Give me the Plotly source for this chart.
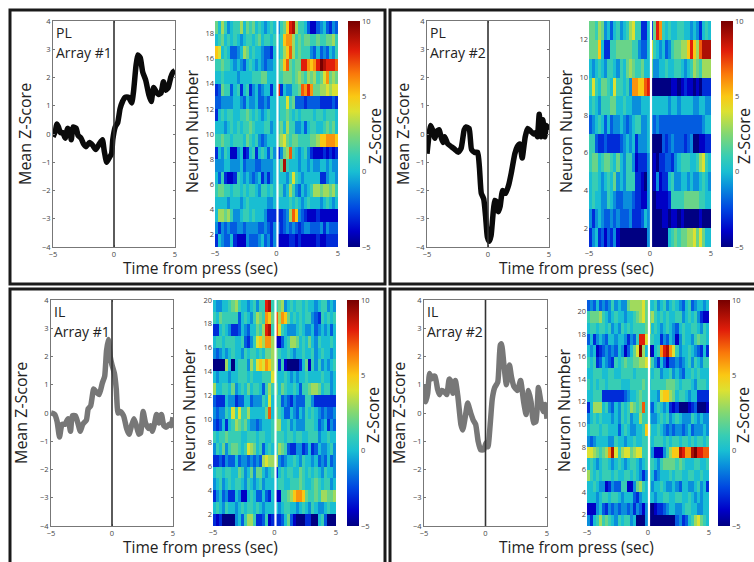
import numpy as np
import plotly.graph_objects as go

W, H = 754, 562

# ---------- mean z-score traces ----------
a_x = [-5,-4.8,-4.7,-4.55,-4.4,-4.2,-4,-3.8,-3.6,-3.5,-3.35,-3.1,-2.95,-2.7,-2.5,-2.3,-2,-1.75,-1.5,-1.2,-0.95,-0.8,-0.6,-0.4,-0.2,-0.1,0.1,0.3,0.5,0.7,0.9,1.2,1.45,1.6,1.8,1.95,2.15,2.35,2.6,2.85,3.05,3.25,3.45,3.65,3.85,4.05,4.25,4.45,4.65,4.85,5]
a_y = [-0.1,0.1,0.35,0.25,0.05,0.05,-0.15,0.2,0.05,-0.2,0.25,0.2,-0.05,-0.15,-0.35,-0.45,-0.3,-0.4,-0.55,-0.35,-0.2,-0.6,-1.0,-0.85,-0.7,-0.2,0.25,0.4,0.9,1.15,1.3,1.3,1.1,1.5,2.4,2.8,2.7,2.2,1.9,1.4,1.15,1.65,1.5,1.4,1.45,1.85,1.55,1.65,2.0,2.2,2.25]
b_x = [-5,-4.85,-4.7,-4.55,-4.35,-4.2,-4,-3.85,-3.7,-3.55,-3.3,-3,-2.7,-2.45,-2.2,-1.95,-1.8,-1.55,-1.35,-1.1,-0.85,-0.7,-0.55,-0.35,-0.2,-0.05,0.1,0.25,0.4,0.55,0.7,0.85,1,1.2,1.45,1.7,1.9,2.2,2.4,2.6,2.8,3.05,3.25,3.5,3.75,3.95,4.05,4.2,4.35,4.5,4.65,4.8,5]
b_y = [-0.7,-0.1,0.3,0.15,-0.15,0.1,0.15,-0.1,-0.3,-0.1,-0.35,-0.45,-0.55,-0.65,-0.5,0.15,0.25,0.2,-0.55,-0.65,-0.65,-1.2,-2.1,-2.3,-2.9,-3.65,-3.8,-3.6,-2.9,-2.35,-2.4,-2.75,-2.55,-2.0,-2.1,-1.8,-1.4,-0.7,-0.45,-0.35,-0.85,-0.1,0.2,0.1,0,0.05,-0.1,0.7,-0.1,0.5,-0.1,0.3,0.15]
c_x = [-5,-4.7,-4.5,-4.3,-4.1,-3.85,-3.6,-3.4,-3.25,-3,-2.8,-2.6,-2.4,-2.1,-1.95,-1.75,-1.5,-1.3,-1.05,-0.8,-0.6,-0.45,-0.3,-0.15,0,0.2,0.35,0.5,0.7,0.95,1.2,1.4,1.6,1.8,2.0,2.2,2.35,2.55,2.75,3,3.15,3.3,3.5,3.65,3.85,4.05,4.25,4.45,4.7,4.85,5]
c_y = [0,-0.05,-0.3,-0.85,-0.4,-0.4,-0.2,-0.65,-0.1,-0.1,-0.35,-0.65,-0.4,-0.25,0.15,0.25,0.85,0.75,0.65,1.05,1.3,2.2,2.6,2.0,1.7,1.4,0.85,0,0.05,-0.1,-0.55,-0.75,-0.45,-0.2,-0.45,-0.75,-0.7,0.05,-0.35,-0.55,-0.45,-0.65,-0.35,-0.05,-0.35,-0.05,-0.45,-0.5,-0.4,-0.45,-0.15]
d_x = [-5,-4.85,-4.7,-4.55,-4.4,-4.25,-4.1,-3.9,-3.75,-3.55,-3.35,-3.15,-2.95,-2.8,-2.65,-2.45,-2.25,-2,-1.85,-1.65,-1.45,-1.2,-1,-0.8,-0.6,-0.4,-0.15,0.05,0.2,0.4,0.55,0.75,1,1.2,1.3,1.5,1.7,1.95,2.1,2.3,2.6,2.85,3.1,3.3,3.5,3.7,3.9,4.1,4.3,4.5,4.7,4.85,5]
d_y = [1,0.4,0.7,1.4,1.2,1.3,1.3,0.85,0.65,0.8,0.75,0.65,1.2,1.1,0.7,1.15,0.6,-0.4,-0.6,-0.15,0.35,0,-0.25,-0.4,-1.0,-1.3,-1.3,-1.05,-1.2,-0.3,0.5,0.9,1.1,2.4,2.45,1.7,1.0,1.7,1.3,0.95,0.8,1.15,0.4,-0.05,0.8,0.4,-0.35,-0.3,0.9,0.4,0.05,0.3,-0.2]

# ---------- per-neuron z-scores, rows listed top to bottom, 40 time bins ----------
a_z = [
[2,0,3,1,-1,0,1,1,3,0,2,1,2,0,1,0,-1,0,1,0,-1,1,2,5,8,9,3,1,1,0,-2,-4,-4,-2,-1,0,-2,-3,-1,-2],
[0,1,2,0,1,0,1,0,-1,0,1,1,0,1,2,0,1,1,0,1,0,1,5,6,6,3,1,2,1,2,2,1,1,2,1,1,2,2,3,1],
[5,4,0,1,0,-2,-2,-1,0,3,2,0,1,0,0,-1,-2,-2,-3,0,0,1,3,5,7,3,1,2,1,1,1,-1,-2,0,-2,-1,-2,0,-1,1],
[1,1,2,1,1,0,-1,0,-1,-2,0,1,0,-1,0,-1,-2,-1,-1,0,1,2,5,7,2,1,2,2,8,8,6,5,6,8,10,9,8,8,8,7],
[0,0,1,0,0,0,0,-1,0,0,0,0,1,1,1,2,2,0,0,0,1,1,2,2,2,1,2,3,2,1,3,2,3,1,2,4,6,2,3,2],
[-3,-2,2,1,1,-2,0,1,-3,0,1,-3,-1,0,-2,-1,0,0,-3,0,8,-3,0,-1,-1,1,1,2,7,6,8,6,2,2,3,3,4,3,4,4],
[-2,-2,-1,-1,-1,-1,0,0,-1,-2,0,-1,-1,0,-2,-2,-1,-2,0,0,0,1,1,4,1,2,-2,-2,-2,-3,-2,-2,-2,-2,-3,-3,-3,-3,-2,-3],
[-3,0,1,0,1,1,0,0,1,1,2,1,0,1,0,-1,0,1,0,0,0,1,1,2,1,0,1,0,1,1,1,1,0,1,1,0,1,1,1,0],
[0,0,0,-1,0,1,0,1,0,1,1,2,1,0,0,0,1,1,-1,0,1,2,0,3,1,1,-1,-1,0,-2,0,1,1,0,0,1,2,1,2,0],
[1,1,2,1,1,0,1,1,1,0,2,1,0,1,-1,-2,-1,0,0,0,2,3,4,2,1,2,2,1,1,1,1,2,2,3,5,5,6,6,6,5],
[-3,0,-1,1,0,-4,-4,-1,0,-4,-3,0,1,-3,0,1,0,-2,1,-1,-3,-1,2,3,7,1,0,-1,0,1,-1,-3,-4,-4,-4,-3,-4,-3,-4,-3],
[-1,-1,-1,0,0,-1,-1,-1,0,-2,-1,-1,-1,-2,-2,-1,-1,-1,-1,0,0,2,9,1,0,0,0,-1,0,0,-1,0,-1,-1,0,0,-1,0,-1,-1],
[0,-2,1,-3,-4,-4,-3,1,0,-1,0,-1,-2,-1,0,-3,-1,-3,-1,0,0,0,0,-1,1,4,1,0,-1,0,0,0,0,0,-3,-3,-1,0,0,-1],
[1,2,2,1,1,0,1,1,0,1,0,1,1,0,-1,1,1,0,1,0,1,1,-1,0,3,1,-1,-2,0,-1,0,1,3,3,2,3,3,2,3,1],
[0,0,0,0,-1,0,0,0,-1,0,1,0,0,0,0,0,0,-1,-1,0,0,0,0,0,1,0,1,0,-1,0,1,0,0,0,-1,0,1,0,-1,0],
[0,3,3,2,3,1,-1,-1,0,1,1,0,1,0,0,0,-1,-3,-3,-3,-3,-3,-2,-1,3,7,5,-1,-2,-3,-4,-4,-4,-3,-4,-4,-4,-4,-4,-4],
[-1,-3,-1,-2,-1,-2,-2,-1,-1,-2,-1,-1,-1,-1,-2,-2,-1,-2,-3,-1,-2,-3,-2,-1,-2,-1,-2,-3,-2,-1,-1,-2,-2,-2,-1,-3,-1,-2,-2,-2],
[-3,0,-1,-2,-2,0,-3,-4,-4,-4,-1,-2,-2,-2,-1,0,-2,-1,-3,-1,-4,-4,-4,-4,-3,-3,-4,-3,-4,-4,-4,-4,-4,-3,-4,-4,-3,-3,-3,-3],
]
b_z = [
[2,2,1,3,2,-1,0,-2,0,1,-1,0,1,3,4,1,1,-3,-3,0,-3,2,8,6,1,0,1,0,0,1,1,0,0,-1,0,-1,-3,0,1,0],
[2,2,2,5,0,-3,-3,1,1,2,2,2,2,2,1,1,-1,-2,-2,0,4,1,0,-1,0,-2,-1,1,2,2,3,3,5,8,5,3,7,9,9,9],
[0,-1,0,1,0,-1,1,1,0,-1,1,0,2,3,2,1,1,2,0,0,2,-1,-1,0,0,1,0,0,1,1,0,-1,0,1,3,2,1,3,3,3],
[1,4,1,0,2,2,1,0,4,1,1,0,1,-1,6,6,5,5,7,8,-5,-5,-5,-5,-5,-5,-5,-4,-4,-5,-4,-3,-4,-4,-5,-4,-5,-3,-3,-3],
[0,1,0,-1,1,1,1,2,2,0,0,1,0,0,-1,-1,-1,0,0,0,0,0,0,0,0,0,-1,0,0,-1,0,0,0,0,-1,-1,0,0,-1,-1],
[-2,-1,0,1,0,-2,0,-2,-1,-1,0,-1,-2,-1,0,1,1,-1,-1,0,-1,-2,-1,-2,-2,-2,-2,-2,-2,-2,-2,-2,-2,-2,-2,-2,-2,-1,0,0],
[1,1,-2,-3,-3,-2,-3,-3,-3,-3,-2,-1,0,-1,0,-3,-1,-1,-1,0,-5,-5,-5,-5,-2,-3,-2,-1,-2,-2,-2,-3,-2,-1,-5,-5,-4,-4,-3,-3],
[1,2,2,0,1,2,2,1,0,2,0,-1,1,1,-1,-4,-3,-3,-3,-1,-5,-4,-5,-3,-3,-2,-2,-3,-1,0,1,1,1,0,0,1,3,4,1,0],
[0,1,1,0,-1,0,1,0,2,-1,0,-1,1,1,1,-3,-3,-4,-5,-1,-5,-4,-1,-4,-3,-3,0,1,-1,-1,0,0,-1,0,-1,-1,0,1,0,-1],
[0,1,0,0,-1,-1,1,0,-1,-2,-2,-1,-1,-1,-2,-3,-3,-4,-4,-1,-5,-5,-4,-4,-4,-4,-3,1,1,1,1,2,2,2,2,2,1,1,0,0],
[-1,-3,-1,0,-1,-2,-2,-1,-2,-1,-2,-2,-2,-1,-3,-3,-3,-2,0,-1,-5,-5,-5,-5,-4,-4,-5,-4,-4,-5,-4,-5,-5,-5,-5,-5,-4,-5,-5,-5],
[-3,-1,0,-3,-2,-4,-2,-3,-1,-4,-5,-5,-5,-5,-5,-5,-5,-5,-5,-1,-5,-5,-5,-5,-5,-5,0,1,2,1,2,2,3,3,4,2,4,2,0,0],
]
c_z = [
[0,-1,-1,0,0,1,2,3,1,0,0,-1,0,1,-1,1,1,8,9,1,1,2,3,-1,0,1,0,1,1,0,1,0,0,-1,0,1,1,-1,0,-1],
[1,0,2,1,1,1,1,1,-2,0,1,0,-1,1,3,2,1,6,5,2,7,3,6,5,2,0,1,0,1,0,1,1,-1,-2,-3,1,0,1,0,1],
[-3,-3,0,1,0,-1,-3,-3,-2,0,-1,-2,0,0,2,1,3,8,9,1,7,4,1,0,-1,-1,-1,0,1,0,-1,-1,0,-2,-1,0,-1,0,-2,0],
[0,1,1,0,1,1,1,0,0,1,-2,-3,-1,1,4,5,3,6,6,3,-4,-4,-2,0,1,3,3,2,0,1,0,2,0,-1,1,0,0,0,1,0],
[-1,-2,-1,0,-1,0,1,0,0,-1,1,0,1,1,0,1,0,2,2,3,2,1,0,0,1,0,-1,0,0,1,0,0,1,-1,0,1,0,0,-1,0],
[-5,-5,-5,-5,3,0,-5,0,1,1,1,-1,3,1,4,5,4,6,5,3,2,-3,1,-4,-5,-5,-5,-5,-3,0,2,-4,1,-1,1,-1,0,-1,0,1],
[0,-1,0,0,0,-1,0,0,1,1,1,0,1,0,0,0,1,1,1,4,1,0,0,1,0,-1,0,-1,0,0,1,0,0,0,0,1,0,0,-1,0],
[3,0,0,1,1,0,2,-1,0,1,0,2,0,1,1,0,-2,1,3,1,2,0,2,1,0,0,1,0,-2,1,1,2,3,3,2,0,1,1,-1,0],
[-2,-3,-3,-3,0,-1,-1,-3,-2,-2,0,0,-2,-1,-1,-1,1,0,4,0,1,1,-2,-1,-2,-3,-1,-2,-2,-2,1,1,-1,-3,-3,-3,-3,-3,-3,-3],
[-1,-2,-1,-1,1,0,4,1,4,1,1,3,0,0,0,0,0,2,7,0,2,1,0,-2,-2,0,-1,-2,0,-1,1,0,1,0,-1,-2,-1,-2,-2,-1],
[-2,-3,-2,0,-3,0,1,3,2,1,2,0,-1,-1,-2,-1,0,0,0,1,3,3,0,0,1,-1,0,-1,-1,-1,1,1,1,0,-2,-1,0,-3,-1,-2],
[1,0,1,1,2,1,1,1,1,0,0,1,1,1,0,1,1,0,0,1,1,1,1,0,1,1,0,1,1,0,0,1,1,1,-1,0,0,1,0,0],
[-1,1,0,2,-1,1,2,2,1,0,1,4,3,2,0,1,-2,0,1,0,1,3,2,1,-2,-3,-3,-1,-1,-3,-2,0,-3,-2,0,-1,-1,0,1,-1],
[-3,-3,-2,-3,-1,-2,-2,0,-2,-1,-1,-2,-1,-2,-1,-2,3,4,3,3,3,-1,-2,-1,0,0,1,0,-1,1,0,0,-1,0,-2,-1,-2,0,-2,-1],
[0,1,1,0,1,1,0,0,2,1,-1,0,2,-1,2,2,0,-1,0,1,-3,0,1,0,1,1,0,0,2,1,0,1,0,1,0,-1,1,0,0,-1],
[-1,0,1,-1,0,1,0,1,1,0,-1,1,0,-1,0,1,-1,0,0,0,0,1,1,0,0,1,1,1,2,1,0,0,1,2,1,0,1,1,-1,0],
[-3,-1,0,-2,-1,-3,-3,0,-1,-4,-4,0,1,0,-2,-2,0,-2,-3,0,-4,-4,1,1,2,3,5,6,6,5,2,1,1,2,1,3,3,2,2,3],
[0,1,0,-1,1,0,0,-1,0,1,0,1,1,0,1,0,-1,0,0,0,0,-1,0,1,1,0,0,-1,0,1,0,-1,1,0,-1,-1,0,1,0,0],
[-3,-4,-3,-5,-5,-5,-5,-1,0,-2,1,3,3,1,-3,-3,-2,1,-4,-3,-3,-3,-2,0,2,-2,-4,-5,-5,-5,-3,-3,-5,-5,0,1,-2,-5,-5,-5],
]
d_z = [
[-2,-1,-2,0,-2,-1,-2,-1,1,-1,0,-1,-1,2,3,3,3,3,4,2,0,0,1,-1,0,1,-1,0,1,0,-1,-2,0,1,-2,-1,0,0,-1,0],
[1,2,2,2,3,1,0,-1,0,1,0,0,-1,0,0,1,2,3,4,2,2,3,1,0,1,0,1,0,0,1,1,-1,0,1,0,1,-1,-3,-4,-4],
[0,1,1,0,1,1,0,1,-1,0,-1,1,0,1,0,1,1,1,1,2,3,0,1,0,-1,0,1,0,-1,-2,0,1,0,0,1,1,0,-1,1,0],
[-2,0,-3,-1,0,-1,-2,0,0,-1,0,0,-1,-3,-1,-2,1,8,8,4,1,1,0,0,-3,-1,-2,0,-1,-4,-1,1,0,0,-1,1,2,1,1,0],
[0,-1,0,-4,-3,-2,-1,-2,-1,-2,0,-1,-4,-2,0,2,4,10,3,0,-5,-4,0,1,6,8,9,6,4,1,-1,0,0,1,0,-1,-2,-3,0,-3],
[1,0,1,-3,-2,0,-1,-2,-3,1,0,1,2,1,1,2,2,3,3,4,3,1,-1,-3,0,-2,-4,-2,-2,-1,-2,-1,0,1,-1,1,0,-1,1,1],
[0,0,1,1,1,0,0,1,1,0,0,1,1,1,1,0,1,1,1,1,1,0,1,1,-1,0,0,1,-1,0,-1,-2,0,0,1,0,1,0,0,0],
[1,0,1,0,1,1,0,1,1,1,1,0,0,0,1,1,1,1,2,1,0,1,1,1,1,1,2,2,2,1,0,1,1,1,0,-1,1,1,1,0],
[0,0,1,1,1,-3,-3,-3,-3,-3,-3,-3,-2,-1,0,0,1,2,1,1,0,0,0,-1,4,5,5,3,2,0,1,1,0,-1,0,0,-3,-3,-3,-3],
[-3,0,3,3,3,0,1,-1,-2,0,-1,1,0,1,3,2,1,2,7,1,-1,-2,0,1,0,-1,0,-3,-4,-3,-5,-5,-5,-4,-3,-2,-5,-5,-5,-4],
[-1,0,1,0,1,0,0,0,-1,0,-1,1,0,1,-1,0,0,3,1,1,0,-1,-1,0,1,0,1,-1,0,1,0,-1,-1,-1,1,0,-1,0,-1,-1],
[0,1,1,1,0,1,1,0,0,0,-2,0,1,0,-1,-1,0,0,1,5,2,0,0,1,0,-1,-2,-1,-2,-1,-1,-2,-1,0,-2,-1,-1,-1,0,-1],
[-1,-2,-1,0,0,0,0,-1,-1,1,0,0,-1,0,0,1,0,0,1,1,1,0,1,1,1,0,1,0,1,1,0,1,1,0,1,0,1,1,0,1],
[4,4,3,2,1,2,3,6,9,4,1,3,4,4,2,3,4,4,1,1,1,-1,-4,-4,-4,-1,1,3,5,5,9,8,6,6,9,10,8,8,7,7],
[0,1,0,-1,0,1,1,0,-1,0,1,0,-1,0,1,1,0,-1,0,1,1,1,0,-1,1,2,2,2,2,1,2,1,0,0,0,1,1,0,0,1],
[3,1,0,1,0,1,1,1,0,1,0,0,1,1,0,1,0,-1,-3,-1,1,0,-2,-1,0,0,0,1,0,1,1,0,0,1,1,0,0,1,0,0],
[0,0,1,0,-1,-1,-4,-3,-1,-2,-2,1,1,-4,-4,-1,2,3,1,0,1,-1,0,0,1,0,-1,-1,0,-1,-2,0,0,-1,-1,0,1,-1,0,-3],
[0,0,0,-1,0,1,1,0,1,1,0,-1,0,0,0,-2,-3,-1,0,0,0,0,-1,0,0,1,1,0,0,1,1,0,0,1,0,-1,0,-1,0,0],
[-4,-4,-4,-1,0,-2,-3,-1,-2,-1,-2,-1,-1,-2,-1,-3,-1,-2,-4,-1,-5,-5,-4,-3,-3,-2,-1,0,0,-1,-1,0,1,1,0,0,-1,-1,0,0],
[-1,-3,0,1,3,1,2,1,0,-1,1,0,1,1,-1,0,-5,-5,-5,-1,-5,-5,-5,-5,-5,-5,-5,-5,-5,-2,-1,-3,-2,0,1,3,4,2,1,0],
]

x_ticks = [-5, 0, 5]
y_ticks = [-4, -3, -2, -1, 0, 1, 2, 3, 4]
cb_ticks = [-5, 0, 5, 10]
neuron_ticks_18 = [2, 4, 6, 8, 10, 12, 14, 16, 18]
neuron_ticks_12 = [2, 4, 6, 8, 10, 12]
neuron_ticks_20 = [2, 4, 6, 8, 10, 12, 14, 16, 18, 20]

JET_MUTED = [
    [0.0, "rgb(0,0,130)"], [0.07, "rgb(0,0,200)"], [0.17, "rgb(0,70,225)"], [0.27, "rgb(10,145,220)"],
    [0.333, "rgb(25,190,210)"], [0.40, "rgb(55,205,180)"], [0.50, "rgb(130,215,115)"], [0.60, "rgb(220,225,50)"],
    [0.667, "rgb(250,200,20)"], [0.767, "rgb(250,120,10)"], [0.867, "rgb(225,30,10)"], [1.0, "rgb(120,0,0)"],
]

BLACK, GREY = "#0a0a0a", "#777777"
FONT = "Open Sans"
AX = "#777777"
TICK = "#444444"

panels = [
    dict(t=21, b=247, line=(53, 175), heat=(215, 338), cb=(348, 12), lx=a_x, ly=a_y, col=BLACK, z=a_z,
         nt=neuron_ticks_18, lab=("PL", "Array #1"), ytx=25, nx=192, zx=375, tc=200, ty=268),
    dict(t=21, b=247, line=(427, 549), heat=(589, 711), cb=(721, 12), lx=b_x, ly=b_y, col=BLACK, z=b_z,
         nt=neuron_ticks_12, lab=("PL", "Array #2"), ytx=403, nx=566, zx=744, tc=576, ty=268),
    dict(t=300, b=526, line=(51, 173), heat=(213, 336), cb=(347, 12), lx=c_x, ly=c_y, col=GREY, z=c_z,
         nt=neuron_ticks_20, lab=("IL", "Array #1"), ytx=21, nx=189, zx=373, tc=200, ty=547),
    dict(t=300, b=526, line=(424, 547), heat=(587, 709), cb=(718, 12), lx=d_x, ly=d_y, col=GREY, z=d_z,
         nt=neuron_ticks_20, lab=("IL", "Array #2"), ytx=399, nx=564, zx=743, tc=576, ty=547),
]

fig = go.Figure()
shapes, ann = [], []


def px(v):
    return v / W


def py(v):
    return 1 - v / H


def text(x, y, s, size, angle=0, xanchor="center"):
    ann.append(dict(x=px(x), y=py(y), xref="paper", yref="paper", text=s, showarrow=False, textangle=angle,
                    xanchor=xanchor, yanchor="middle", font=dict(family=FONT, size=size, color="#222222")))


def ax_id(letter, n):
    return letter if n == 1 else f"{letter}{n}"


layout_axes = {}
for i, p in enumerate(panels):
    n1, n2 = 2 * i + 1, 2 * i + 2
    xa1, ya1, xa2, ya2 = ax_id("x", n1), ax_id("y", n1), ax_id("x", n2), ax_id("y", n2)
    ydom = [py(p["b"]), py(p["t"])]
    common = dict(tickfont=dict(family=FONT, size=7.5, color=TICK), tickcolor=AX, zeroline=False, showgrid=False)
    layout_axes["xaxis" + ("" if n1 == 1 else str(n1))] = dict(
        domain=[px(p["line"][0]), px(p["line"][1])], range=[-5, 5], tickvals=x_ticks,
        ticks="inside", ticklen=2, mirror="ticks", showline=True, linecolor=AX,
        linewidth=1, anchor=ya1, **common)
    layout_axes["yaxis" + ("" if n1 == 1 else str(n1))] = dict(
        domain=ydom, range=[-4, 4], tickvals=y_ticks, ticks="inside", ticklen=2,
        mirror="ticks", showline=True, linecolor=AX, linewidth=1, anchor=xa1, **common)
    nrows = len(p["z"])
    layout_axes[f"xaxis{n2}"] = dict(domain=[px(p["heat"][0]), px(p["heat"][1])], range=[-5, 5], tickvals=x_ticks,
                                     anchor=ya2, **common)
    layout_axes[f"yaxis{n2}"] = dict(domain=ydom, range=[1, nrows + 1], tickvals=p["nt"], anchor=xa2, **common)

    fig.add_trace(go.Scatter(x=p["lx"], y=p["ly"], mode="lines", xaxis=xa1, yaxis=ya1, showlegend=False,
                             line=dict(color=p["col"], width=5.5, shape="spline", smoothing=0.5), cliponaxis=False))
    ncols = len(p["z"][0])
    fig.add_trace(go.Heatmap(
        z=p["z"][::-1],
        x=(np.arange(ncols) + 0.5) * 10 / ncols - 5,
        y=np.arange(nrows) + 1.5,
        xaxis=xa2, yaxis=ya2, colorscale=JET_MUTED, zmin=-5, zmax=10,
        colorbar=dict(x=px(p["cb"][0]), xanchor="left", xpad=0, ypad=0, thickness=p["cb"][1], thicknessmode="pixels",
                      y=py(p["b"]), yanchor="bottom", len=(p["b"] - p["t"]) / H, lenmode="fraction", outlinewidth=0,
                      tickvals=cb_ticks, ticks="", tickfont=dict(family=FONT, size=7.5, color=TICK)),
    ))
    shapes.append(dict(type="line", xref=xa1, yref=f"{ya1} domain", x0=0, x1=0, y0=0, y1=1,
                       line=dict(color="#333333", width=1.6)))
    shapes.append(dict(type="line", xref=xa2, yref=f"{ya2} domain", x0=0.08, x1=0.08, y0=0, y1=1,
                       line=dict(color="#ffffff", width=2.2)))
    text(p["line"][0] + 1, p["t"] + 11, p["lab"][0], 14, xanchor="left")
    text(p["line"][0] + 1, p["t"] + 31, p["lab"][1], 14, xanchor="left")
    text(p["ytx"], (p["t"] + p["b"]) / 2, "Mean Z-Score", 16, angle=-90)
    text(p["nx"], (p["t"] + p["b"]) / 2 - 2, "Neuron Number", 16, angle=-90)
    text(p["zx"], (p["t"] + p["b"]) / 2 + 2, "Z-Score", 16, angle=-90)
    text(p["tc"], p["ty"], "Time from press (sec)", 15.5)

# panel frames
frame = dict(color="#1a1a1a", width=3)
for x0, y0, x1, y1 in [(10, 10, 385, 284), (390, 10, 760, 284), (10, 289, 385, 575), (390, 289, 760, 575)]:
    shapes.append(dict(type="rect", xref="paper", yref="paper", x0=px(x0), x1=px(x1), y0=py(y1), y1=py(y0),
                       line=frame, layer="below"))

fig.update_layout(width=W, height=H, margin=dict(l=0, r=0, t=0, b=0, autoexpand=False), paper_bgcolor="white",
                  plot_bgcolor="white", shapes=shapes, annotations=ann, showlegend=False, **layout_axes)
fig.write_html("out.html", config={"displayModeBar": False},
               post_script="document.body.style.margin='0';document.body.style.overflow='hidden';")
